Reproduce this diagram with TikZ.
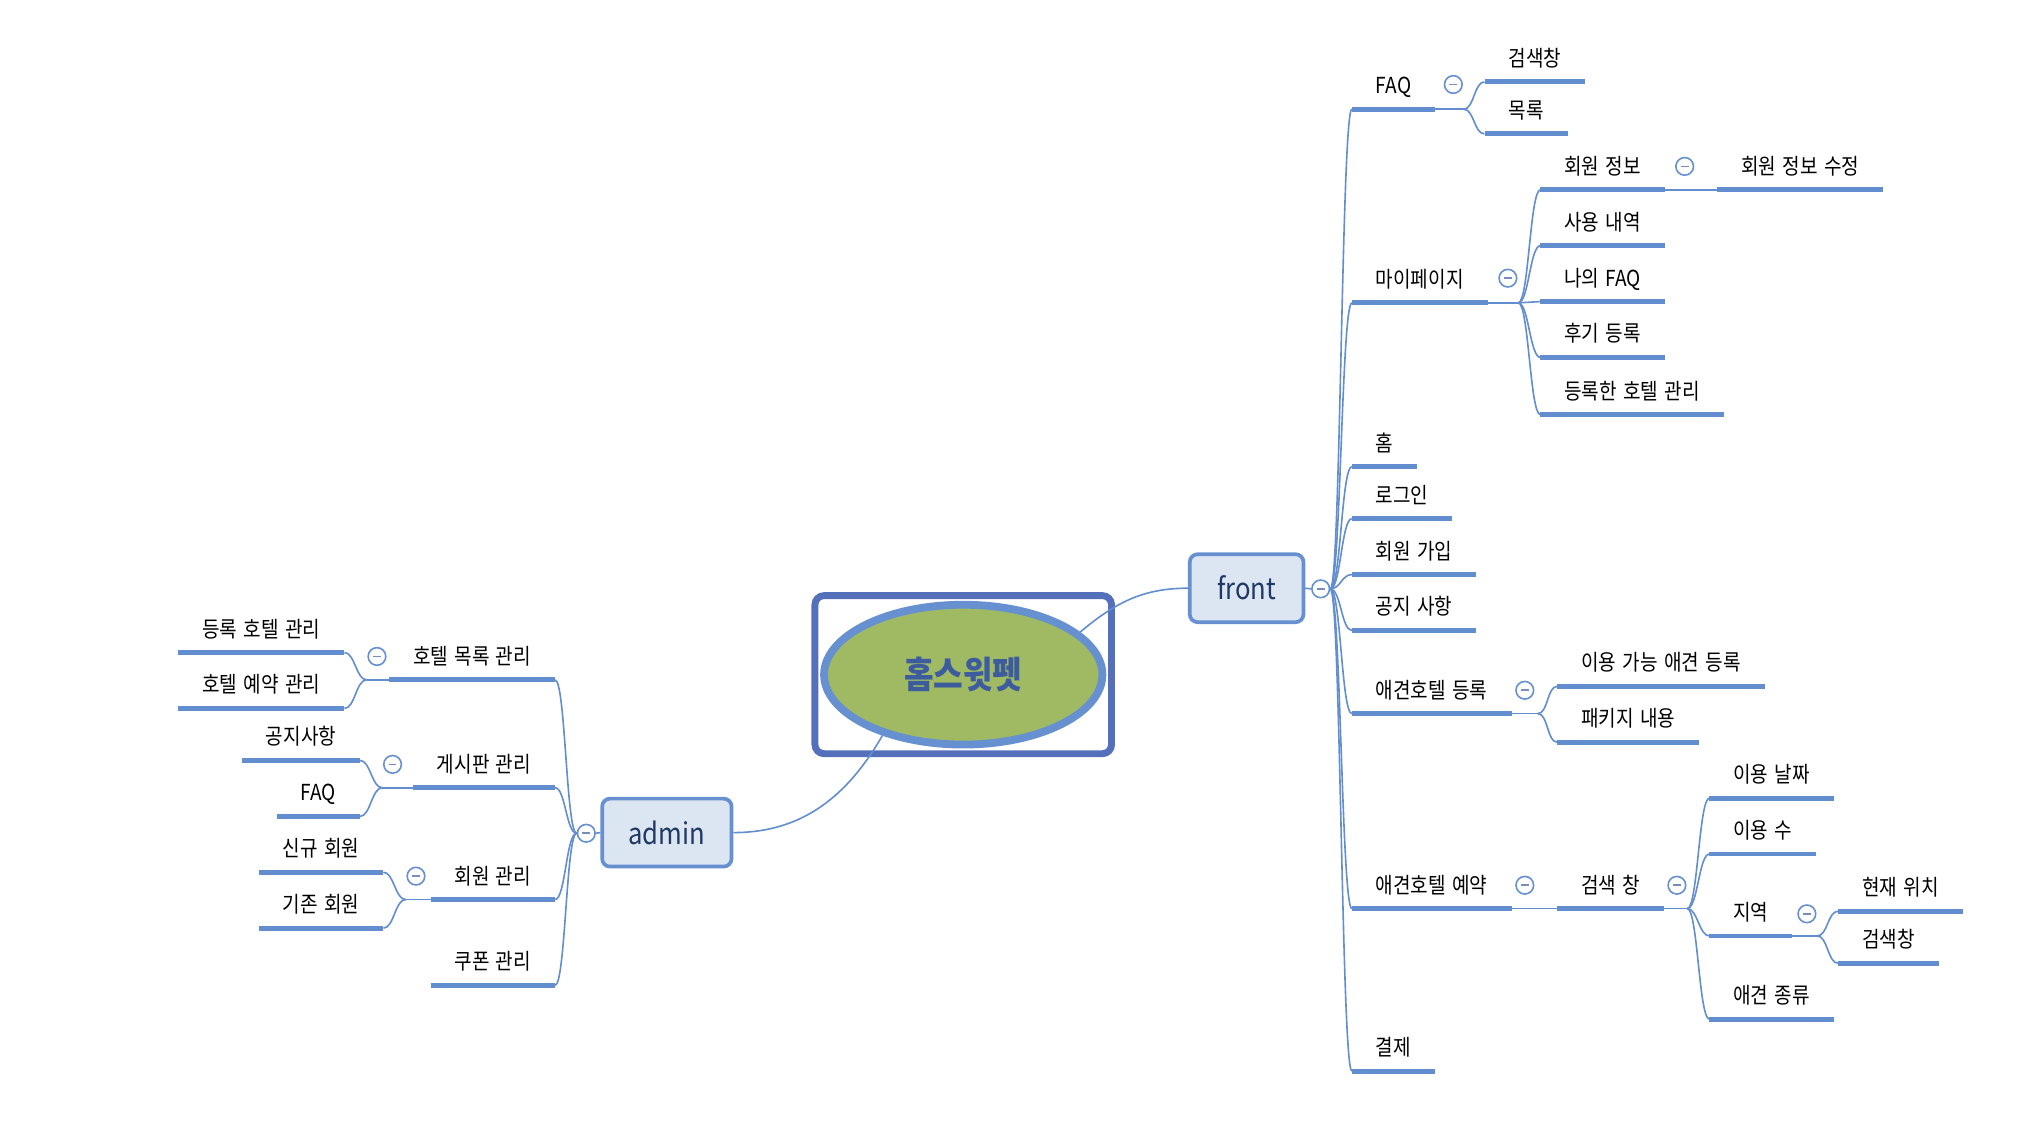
\documentclass[tikz,border=0pt]{standalone}
\usepackage{fontspec}
\setmainfont{Noto Sans CJK KR}[FakeStretch=0.865, WordSpace=1.5]
\usetikzlibrary{shapes.geometric}

\definecolor{linkblue}{RGB}{98,141,207}
\definecolor{rootframe}{RGB}{85,112,187}
\definecolor{rootrim}{RGB}{102,144,208}
\definecolor{rootfill}{RGB}{160,186,100}
\definecolor{roottext}{RGB}{61,92,158}
\definecolor{mainfill}{RGB}{220,229,242}
\definecolor{maintext}{RGB}{31,56,100}
\definecolor{minusblue}{RGB}{120,140,190}

\begin{document}
\begin{tikzpicture}[
		x=0.0199cm, y=-0.0199cm,
		every node/.style={font=\fontsize{9.6}{11}\selectfont},
		topic/.style={anchor=south west, inner xsep=0.36cm, inner ysep=0.23cm, text depth=0pt},
		ltopic/.style={topic, anchor=south east},
		main/.style={rectangle, rounded corners=0.12cm, draw=rootrim, line width=1.6pt, fill=mainfill,
			minimum width=1.74cm, minimum height=1.04cm, text=maintext, font=\fontsize{12.9}{15}\selectfont},
		fold/.style={circle, draw=rootrim, fill=white, line width=0.7pt, minimum size=0.27cm, inner sep=0pt,
			path picture={\draw[minusblue, line width=0.7pt] ([xshift=-1.7pt]path picture bounding box.center)
				-- ([xshift=1.7pt]path picture bounding box.center);}},
		link/.style={draw=linkblue, line width=0.7pt},
		uline/.style={draw=linkblue, line width=2.1pt},
		rbranch/.style={to path={.. controls +(8,0) and +(-8,0) .. (\tikztotarget)}},
		lbranch/.style={to path={.. controls +(-8,0) and +(8,0) .. (\tikztotarget)}}
	]
  \useasboundingbox (0,0) rectangle (1567.8,878.4);

  % central topic
  \node (rootbox) [draw=rootframe, line width=3pt, rounded corners=0.14cm, minimum width=4.54cm, minimum height=2.42cm] at (741,519) {};
  \node (root) [ellipse, draw=rootrim, line width=3.4pt, fill=rootfill, minimum width=4.26cm, minimum height=2.14cm,
    text=roottext, font=\fontsize{16.2}{18}\selectfont\bfseries] at (741,519) {홈스윗펫};

  \node (front) [main] at (959,452.5) {front};
  \node (admin) [main, minimum width=1.98cm] at (513,640.5) {admin};
  \draw[link] (root.20) to[out=40, in=180] (front.west);
  \draw[link] (root.-143) to[out=240, in=0] (admin.east);

  % front side
  \node (fcirc) [fold] at (1016,453) {};
  \node (faq) [topic] at (1040,84) {FAQ};
  \node (mypage) [topic] at (1040,233) {마이페이지};
  \node (home) [topic] at (1040,359) {홈};
  \node (login) [topic] at (1040,399) {로그인};
  \node (join) [topic] at (1040,442) {회원 가입};
  \node (notice) [topic] at (1040,485) {공지 사항};
  \node (hotelreg) [topic] at (1040,549) {애견호텔 등록};
  \node (hotelbook) [topic] at (1040,699) {애견호텔 예약};
  \node (pay) [topic] at (1040,824) {결제};

  \node (search1) [topic] at (1142,63) {검색창};
  \node (list) [topic] at (1142,103) {목록};

  \node (info) [topic] at (1185,146) {회원 정보};
  \node (usage) [topic] at (1185,189) {사용 내역};
  \node (myfaq) [topic] at (1185,232) {나의 FAQ};
  \node (review) [topic] at (1185,275) {후기 등록};
  \node (myhotel) [topic] at (1185,319) {등록한 호텔 관리};
  \node (infoedit) [topic] at (1321,146) {회원 정보 수정};

  \node (petreg) [topic] at (1198,528) {이용 가능 애견 등록};
  \node (package) [topic] at (1198,571) {패키지 내용};

  \node (searchbox) [topic] at (1198,699) {검색 창};
  \node (date) [topic] at (1315,614) {이용 날짜};
  \node (count) [topic] at (1315,657) {이용 수};
  \node (area) [topic] at (1315,720) {지역};
  \node (breed) [topic] at (1315,784) {애견 종류};
  \node (here) [topic] at (1414,701) {현재 위치};
  \node (search2) [topic] at (1414,741) {검색창};

  \coordinate (faqj) at (1126,84);
  \coordinate (mpj) at (1168,233);
  \coordinate (hrj) at (1183,549);
  \coordinate (sbj) at (1298,699);
  \coordinate (arj) at (1398,720);

  \draw[link] (front.east) -- (fcirc.west);
  \foreach \c in {faq,mypage,home,login,join,notice,hotelreg,hotelbook,pay}
    \draw[link] (fcirc.east) to[rbranch] (\c.south west);
  \draw[link] (faq.south east) -- (faqj);
  \foreach \c in {search1,list}
    \draw[link] (faqj) to[rbranch] (\c.south west);
  \draw[link] (mypage.south east) -- (mpj);
  \foreach \c in {info,usage,myfaq,review,myhotel}
    \draw[link] (mpj) to[rbranch] (\c.south west);
  \draw[link] (info.south east) -- (infoedit.south west);
  \draw[link] (hotelreg.south east) -- (hrj);
  \foreach \c in {petreg,package}
    \draw[link] (hrj) to[rbranch] (\c.south west);
  \draw[link] (hotelbook.south east) -- (searchbox.south west);
  \draw[link] (searchbox.south east) -- (sbj);
  \foreach \c in {date,count,area,breed}
    \draw[link] (sbj) to[rbranch] (\c.south west);
  \draw[link] (area.south east) -- (arj);
  \foreach \c in {here,search2}
    \draw[link] (arj) to[rbranch] (\c.south west);

  \node (faqfold) [fold] at (1118,65) {};
  \node (mpfold) [fold] at (1160,214) {};
  \node (infofold) [fold] at (1296,128) {};
  \node (hrfold) [fold] at (1173,531) {};
  \node (hbfold) [fold] at (1173,681) {};
  \node (sbfold) [fold] at (1290,681) {};
  \node (arfold) [fold] at (1390,703) {};

  % admin side
  \node (acirc) [fold] at (451,641) {};
  \node (hotellist) [ltopic] at (427,523) {호텔 목록 관리};
  \node (board) [ltopic] at (427,606) {게시판 관리};
  \node (member) [ltopic] at (427,692) {회원 관리};
  \node (coupon) [ltopic] at (427,758) {쿠폰 관리};

  \node (regmanage) [ltopic] at (265,502) {등록 호텔 관리};
  \node (bookmanage) [ltopic] at (265,545) {호텔 예약 관리};
  \node (notice2) [ltopic] at (277,585) {공지사항};
  \node (faq2) [ltopic] at (277,628) {FAQ};
  \node (newmem) [ltopic] at (295,671) {신규 회원};
  \node (oldmem) [ltopic] at (295,714) {기존 회원};

  \coordinate (hlj) at (282,523);
  \coordinate (bdj) at (294,606);
  \coordinate (mbj) at (312,692);

  \draw[link] (admin.west) -- (acirc.east);
  \foreach \c in {hotellist,board,member,coupon}
    \draw[link] (acirc.west) to[lbranch] (\c.south east);
  \draw[link] (hotellist.south west) -- (hlj);
  \foreach \c in {regmanage,bookmanage}
    \draw[link] (hlj) to[lbranch] (\c.south east);
  \draw[link] (board.south west) -- (bdj);
  \foreach \c in {notice2,faq2}
    \draw[link] (bdj) to[lbranch] (\c.south east);
  \draw[link] (member.south west) -- (mbj);
  \foreach \c in {newmem,oldmem}
    \draw[link] (mbj) to[lbranch] (\c.south east);

  \node (hlfold) [fold] at (290,505) {};
  \node (bdfold) [fold] at (302,588) {};
  \node (mbfold) [fold] at (320,674) {};

  % underlines
  \foreach \n in {faq,mypage,home,login,join,notice,hotelreg,hotelbook,pay,search1,list,info,usage,myfaq,review,myhotel,
      infoedit,petreg,package,searchbox,date,count,area,breed,here,search2,hotellist,board,member,coupon,
      regmanage,bookmanage,notice2,faq2,newmem,oldmem}
    \draw[uline] (\n.south west) -- (\n.south east);
\end{tikzpicture}
\end{document}
